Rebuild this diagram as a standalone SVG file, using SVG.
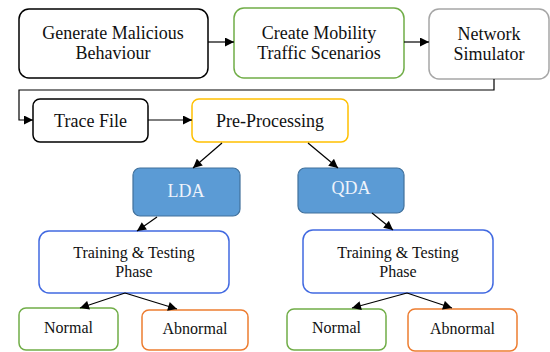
<svg xmlns="http://www.w3.org/2000/svg" width="550" height="352" viewBox="0 0 550 352">
<defs>
<marker id="ah" viewBox="0 0 10 10" refX="10" refY="5" markerWidth="10" markerHeight="9" markerUnits="userSpaceOnUse" orient="auto">
<path d="M0,0 L10,5 L0,10 Z" fill="#000"/>
</marker>
</defs>
<style>
.box{fill:#fff;stroke-width:1.5}
.t{font-family:"Liberation Serif","Times New Roman",serif;font-size:18px;fill:#111;text-anchor:middle}
.s{font-size:16px}
.w{fill:#eef3fb}
.c{fill:none;stroke:#000;stroke-width:1.2;marker-end:url(#ah)}
</style>
<rect width="550" height="352" fill="#fff"/>
<g id="gen"><rect class="box" x="19" y="9" width="189" height="69" rx="10" stroke="#000"/><text class="t" x="113" y="39">Generate Malicious</text><text class="t" x="113" y="59">Behaviour</text></g>
<g id="mob"><rect class="box" x="234" y="8" width="170" height="70" rx="10" stroke="#70ad47"/><text class="t" x="319" y="39">Create Mobility</text><text class="t" x="319" y="59">Traffic Scenarios</text></g>
<g id="net"><rect class="box" x="429" y="9" width="120" height="70" rx="10" stroke="#a6a6a6"/><text class="t" x="489" y="40">Network</text><text class="t" x="489" y="60">Simulator</text></g>
<g id="trace"><rect class="box" x="33" y="99" width="115" height="43" rx="7" stroke="#000"/><text class="t" x="90.5" y="127">Trace File</text></g>
<g id="pre"><rect class="box" x="192" y="99" width="156" height="43" rx="7" stroke="#ffc000"/><text class="t" x="270" y="127">Pre-Processing</text></g>
<g id="lda"><rect x="133" y="168" width="107" height="48" rx="7" fill="#5b9bd5" stroke="#41719c" stroke-width="1.2"/><text class="t w" x="186" y="197">LDA</text></g>
<g id="qda"><rect x="298" y="168" width="106" height="45" rx="7" fill="#5b9bd5" stroke="#41719c" stroke-width="1.2"/><text class="t w" x="351" y="194">QDA</text></g>
<g id="tt1"><rect class="box" x="39" y="231" width="190" height="62" rx="10" stroke="#4169e1"/><text class="t s" x="134" y="258">Training &amp; Testing</text><text class="t s" x="134" y="277">Phase</text></g>
<g id="tt2"><rect class="box" x="303" y="230" width="190" height="63" rx="10" stroke="#4169e1"/><text class="t s" x="398" y="258">Training &amp; Testing</text><text class="t s" x="398" y="277">Phase</text></g>
<g id="n1"><rect class="box" x="19" y="308" width="99" height="42" rx="7" stroke="#70ad47"/><text class="t s" x="68.5" y="333">Normal</text></g>
<g id="a1"><rect class="box" x="142" y="310" width="106" height="40" rx="7" stroke="#ed7d31"/><text class="t s" x="195" y="334">Abnormal</text></g>
<g id="n2"><rect class="box" x="287" y="309" width="99" height="41" rx="7" stroke="#70ad47"/><text class="t s" x="336.5" y="333">Normal</text></g>
<g id="a2"><rect class="box" x="408" y="309" width="109" height="42" rx="7" stroke="#ed7d31"/><text class="t s" x="462.5" y="334">Abnormal</text></g>
<g id="connectors">
<path class="c" d="M208,42 L234,42"/>
<path class="c" d="M404,42 L429,42"/>
<path class="c" d="M494,79 L494,90 L19,90 L19,120 L33,120"/>
<path class="c" d="M148,120 L192,120"/>
<path class="c" d="M222,143 L193,168"/>
<path class="c" d="M308,143 L338,168"/>
<path class="c" d="M157,217 L137,231"/>
<path class="c" d="M372,213 L393,230"/>
<path class="c" d="M125,293 L80,308"/>
<path class="c" d="M125,293 L177,309"/>
<path class="c" d="M407,293 L352,308"/>
<path class="c" d="M407,293 L452,308"/>
</g>
</svg>
